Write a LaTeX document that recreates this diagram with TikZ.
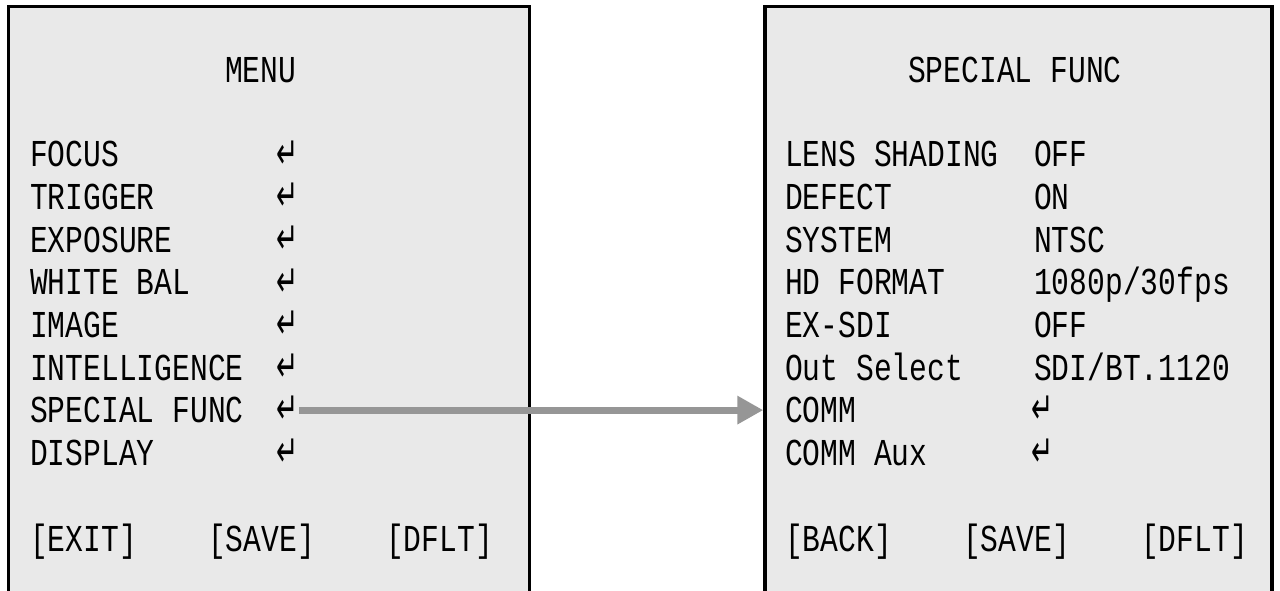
\documentclass[tikz,border=0pt]{standalone}
\usepackage{fontspec}
\usetikzlibrary{arrows.meta}
\newfontfamily\menufont[FakeStretch=0.78]{Liberation Mono}
\newfontfamily\symfont[FakeStretch=0.6]{DejaVu Sans}
\definecolor{panelgray}{HTML}{E9E9E9}
\definecolor{arrowgray}{HTML}{969696}

\begin{document}
\begin{tikzpicture}[x=1pt,y=-1pt,
  panel/.style={draw=black,line width=3.5pt,fill=panelgray,minimum height=620pt,inner sep=0pt},
  lbl/.style={anchor=base west,inner sep=0pt,font=\menufont\fontsize{38}{38}\selectfont,text=black},
  ret/.style={inner sep=0pt,font=\symfont\fontsize{44}{44}\selectfont,text=black},
  flow/.style={draw=arrowgray,line width=7pt,-{Triangle[length=26pt,width=27pt]}}]

\useasboundingbox (0,0) rectangle (1280,591);
\clip (0,0) rectangle (1280,591);

% the two menu screens (their lower edges run off the page)
\node[panel,minimum width=521pt] (lbox) at (269,316.5) {};
\node[panel,minimum width=507pt] (rbox) at (1018.5,316.5) {};

% main menu
\node[lbl] (ltitle) at (225,82.5) {MENU};
\foreach \t [count=\i] in {FOCUS,TRIGGER,EXPOSURE,WHITE BAL,IMAGE,INTELLIGENCE,SPECIAL FUNC,DISPLAY} {
  \node[lbl] (l\i) at (30,{167+42.6*(\i-1)}) {\t};
  \node[ret] (lr\i) at (288,{154.5+42.6*(\i-1)}) {↵};
}
\node[lbl] (lexit) at (30,551) {[EXIT]};
\node[lbl] (lsave) at (208,551) {[SAVE]};
\node[lbl] (ldflt) at (386,551) {[DFLT]};

% special function sub-menu
\node[lbl] (rtitle) at (908,82.5) {SPECIAL FUNC};
\foreach \t [count=\i] in {LENS SHADING,DEFECT,SYSTEM,HD FORMAT,EX-SDI,Out Select,COMM,COMM Aux} {
  \node[lbl] (r\i) at (785,{167+42.6*(\i-1)}) {\t};
}
\foreach \v [count=\i] in {OFF,ON,NTSC,1080p/30fps,OFF,SDI/BT.1120} {
  \node[lbl] (v\i) at (1034,{167+42.6*(\i-1)}) {\v};
}
\node[ret] (rr7) at (1043,{154.5+42.6*6}) {↵};
\node[ret] (rr8) at (1043,{154.5+42.6*7}) {↵};
\node[lbl] (rback) at (785,551) {[BACK]};
\node[lbl] (rsave) at (963,551) {[SAVE]};
\node[lbl] (rdflt) at (1141,551) {[DFLT]};

% SPECIAL FUNC opens the sub-menu
\draw[flow] (lr7.east) -- (rbox.west |- lr7.east);
\end{tikzpicture}
\end{document}
